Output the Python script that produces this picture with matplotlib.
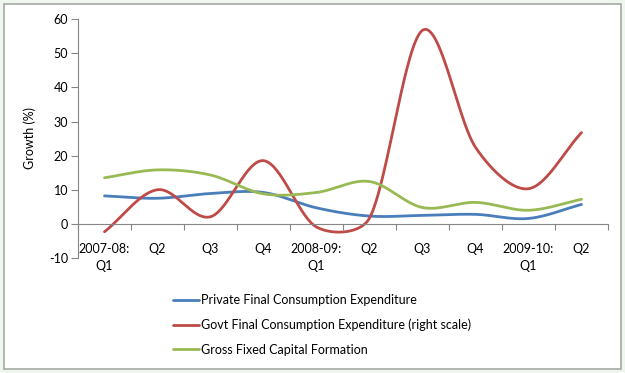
import numpy as np
import matplotlib.pyplot as plt
from matplotlib.patches import FancyBboxPatch

quarters = ["2007-08:\nQ1", "Q2", "Q3", "Q4", "2008-09:\nQ1", "Q2", "Q3", "Q4", "2009-10:\nQ1", "Q2"]
private = [8.3, 7.6, 9.0, 9.3, 4.8, 2.4, 2.6, 2.9, 1.7, 5.8]
govt = [-2.2, 10.1, 2.2, 18.6, -0.8, 1.8, 56.7, 22.5, 10.4, 26.8]
gfcf = [13.6, 15.9, 14.4, 8.9, 9.3, 12.5, 4.9, 6.4, 4.1, 7.3]

names = ["Private Final Consumption Expenditure",
         "Govt Final Consumption Expenditure (right scale)",
         "Gross Fixed Capital Formation"]
colors = ["#4a7ebb", "#be4b48", "#98b954"]

# approx pixels per category / per y unit, used so smoothing looks like Excel's
SX, SY = 53.0, 3.42


def smooth(y, n=60):
    # Excel-like smoothed line: cubic Bezier in screen space,
    # Catmull-Rom arms capped at a third of the segment length
    P = np.column_stack([np.arange(len(y)) * SX, np.asarray(y, float) * SY])
    k = len(P)
    d = [P[min(i + 1, k - 1)] - P[max(i - 1, 0)] for i in range(k)]
    d[0] = d[0] * 2
    d[-1] = d[-1] * 2
    t = np.linspace(0, 1, n)[:, None]
    out = []
    for i in range(k - 1):
        seg = np.linalg.norm(P[i + 1] - P[i]) / 3
        a1 = d[i] / 6
        a2 = d[i + 1] / 6
        a1 = a1 * min(1, seg / np.linalg.norm(a1))
        a2 = a2 * min(1, seg / np.linalg.norm(a2))
        c1 = P[i] + a1
        c2 = P[i + 1] - a2
        b = (1 - t)**3 * P[i] + 3 * (1 - t)**2 * t * c1 + 3 * (1 - t) * t**2 * c2 + t**3 * P[i + 1]
        out.append(b)
    out = np.vstack(out)
    return out[:, 0] / SX, out[:, 1] / SY


plt.rcParams["font.family"] = ["Lato", "DejaVu Sans"]
plt.rcParams["axes.unicode_minus"] = False
fig = plt.figure(figsize=(6.25, 3.73), dpi=100)
fig.patch.set_facecolor("#eef6ee")
fig.patches.append(FancyBboxPatch((0.006, 0.01), 0.988, 0.98, boxstyle="square,pad=0",
                                  transform=fig.transFigure, facecolor="white",
                                  edgecolor="#a8a8a8", linewidth=1.2, zorder=-1))

ax = fig.add_axes([0.1248, 0.307, 0.848, 0.642])
ax.set_facecolor("none")

for vals, name, c in zip([private, govt, gfcf], names, colors):
    sx, sy = smooth(vals)
    ax.plot(sx, sy, color=c, lw=2.0, label=name, solid_capstyle="round")

ax.set_xlim(-0.5, 9.5)
ax.set_ylim(-10, 60)
ax.set_yticks(range(-10, 61, 10))
ax.set_xticks(np.arange(-0.5, 9.6, 1))
ax.set_xticklabels([])
ax.tick_params(axis="x", length=4, color="#868686", direction="out")
ax.tick_params(axis="y", length=5, color="#868686", labelsize=9, pad=2)

ax.spines[["top", "right"]].set_visible(False)
ax.spines["bottom"].set_position(("data", 0))
ax.spines["left"].set_color("#868686")
ax.spines["bottom"].set_color("#868686")

for i, q in enumerate(quarters):
    ax.text(i, -5.6, q, ha="center", va="top", fontsize=9, linespacing=1.45)

fig.text(0.048, 0.63, "Growth (%)", rotation=90, ha="center", va="center", fontsize=9)

leg = fig.legend(loc="upper left", bbox_to_anchor=(0.2768, 0.2118), frameon=False,
                 fontsize=9, handlelength=2.08, handletextpad=0.16, labelspacing=1.0,
                 borderpad=0, borderaxespad=0)

plt.savefig("out.png", dpi=100)
